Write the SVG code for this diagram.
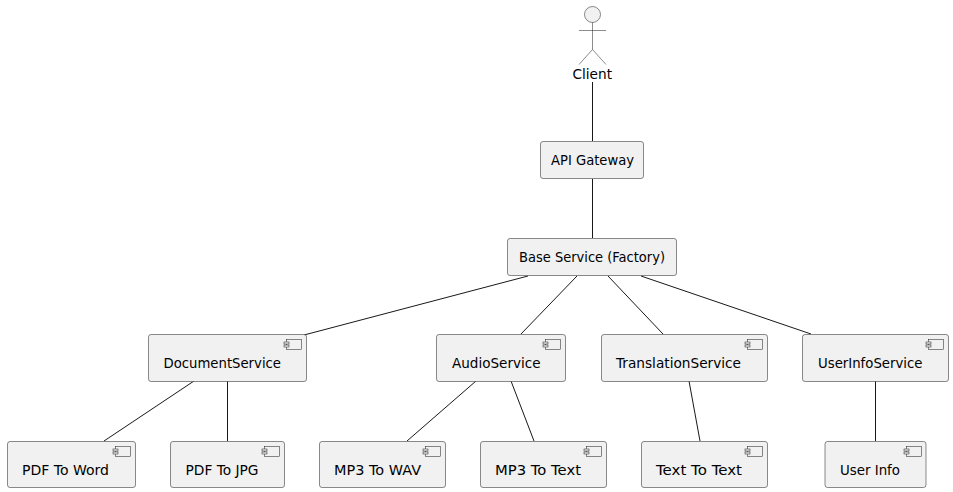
<svg xmlns="http://www.w3.org/2000/svg" width="953" height="492" viewBox="0 0 953 492">
<style>
.box{fill:#f1f1f1;stroke:#181818;stroke-width:.5}
.ic{fill:#f1f1f1;stroke:#181818;stroke-width:.5}
.act{fill:none;stroke:#181818;stroke-width:.5}
.lbl{font-family:"DejaVu Sans","Open Sans",sans-serif;font-size:13.500px;fill:#000}
.con{fill:none;stroke:#181818;stroke-width:1}
</style>
<defs>
<g id="cmp"><rect class="ic" x="2.500" y="0" width="15" height="10"/><rect class="ic" x="0" y="2.500" width="5" height="2"/><rect class="ic" x="0" y="5.500" width="5" height="2"/></g>
</defs>
<g id="connectors">
<path class="con" d="M592.500 82V141M592.500 179V238M528 276L304 335M577 276L521 334M608 276L663 334M641 276L811 334M194 381L104 441M227.500 381V441M476 381L407 441M511 381L534 441M689 381L700 441M875.500 381V441"/>
</g>
<g id="client">
<circle cx="592.500" cy="14.500" r="8" fill="#f1f1f1" stroke="#181818" stroke-width=".5"/>
<path class="act" d="M592.500 22.500V49.500M579 30.500H606M592.500 49.500L579 64.500M592.500 49.500L606 64.500"/>
<text class="lbl" x="572.500" y="79" textLength="39.500" lengthAdjust="spacingAndGlyphs">Client</text>
</g>
<g id="api-gateway"><rect class="box" x="540.500" y="141.500" width="103" height="37" rx="2.500"/><text class="lbl" x="551" y="165" textLength="83" lengthAdjust="spacingAndGlyphs">API Gateway</text></g>
<g id="base-service"><rect class="box" x="507.500" y="238.500" width="169" height="37" rx="2.500"/><text class="lbl" x="519" y="262" textLength="146" lengthAdjust="spacingAndGlyphs">Base Service (Factory)</text></g>
<g id="document-service"><rect class="box" x="148.500" y="334.500" width="158" height="47" rx="2.500"/><use href="#cmp" x="284" y="339.500"/><text class="lbl" x="163.500" y="368" textLength="117.500" lengthAdjust="spacingAndGlyphs">DocumentService</text></g>
<g id="audio-service"><rect class="box" x="436.500" y="334.500" width="129" height="47" rx="2.500"/><use href="#cmp" x="543" y="339.500"/><text class="lbl" x="452" y="368" textLength="88.500" lengthAdjust="spacingAndGlyphs">AudioService</text></g>
<g id="translation-service"><rect class="box" x="601.500" y="334.500" width="166" height="47" rx="2.500"/><use href="#cmp" x="745" y="339.500"/><text class="lbl" x="616" y="368" textLength="125" lengthAdjust="spacingAndGlyphs">TranslationService</text></g>
<g id="userinfo-service"><rect class="box" x="802.500" y="334.500" width="146" height="47" rx="2.500"/><use href="#cmp" x="926" y="339.500"/><text class="lbl" x="818" y="368" textLength="104.500" lengthAdjust="spacingAndGlyphs">UserInfoService</text></g>
<g id="pdf-to-word"><rect class="box" x="7.500" y="441.500" width="128" height="46" rx="2.500"/><use href="#cmp" x="113" y="446.500"/><text class="lbl" x="22" y="475" textLength="87" lengthAdjust="spacingAndGlyphs">PDF To Word</text></g>
<g id="pdf-to-jpg"><rect class="box" x="170.500" y="441.500" width="114" height="46" rx="2.500"/><use href="#cmp" x="262" y="446.500"/><text class="lbl" x="185.500" y="475" textLength="73" lengthAdjust="spacingAndGlyphs">PDF To JPG</text></g>
<g id="mp3-to-wav"><rect class="box" x="319.500" y="441.500" width="126" height="46" rx="2.500"/><use href="#cmp" x="423" y="446.500"/><text class="lbl" x="334" y="475" textLength="87" lengthAdjust="spacingAndGlyphs">MP3 To WAV</text></g>
<g id="mp3-to-text"><rect class="box" x="480.500" y="441.500" width="126" height="46" rx="2.500"/><use href="#cmp" x="584" y="446.500"/><text class="lbl" x="495" y="475" textLength="86" lengthAdjust="spacingAndGlyphs">MP3 To Text</text></g>
<g id="text-to-text"><rect class="box" x="641.500" y="441.500" width="126" height="46" rx="2.500"/><use href="#cmp" x="745" y="446.500"/><text class="lbl" x="656" y="475" textLength="86" lengthAdjust="spacingAndGlyphs">Text To Text</text></g>
<g id="user-info"><rect class="box" x="825" y="441.500" width="101" height="46" rx="2.500"/><use href="#cmp" x="904" y="446.500"/><text class="lbl" x="840" y="475" textLength="60" lengthAdjust="spacingAndGlyphs">User Info</text></g>
</svg>
